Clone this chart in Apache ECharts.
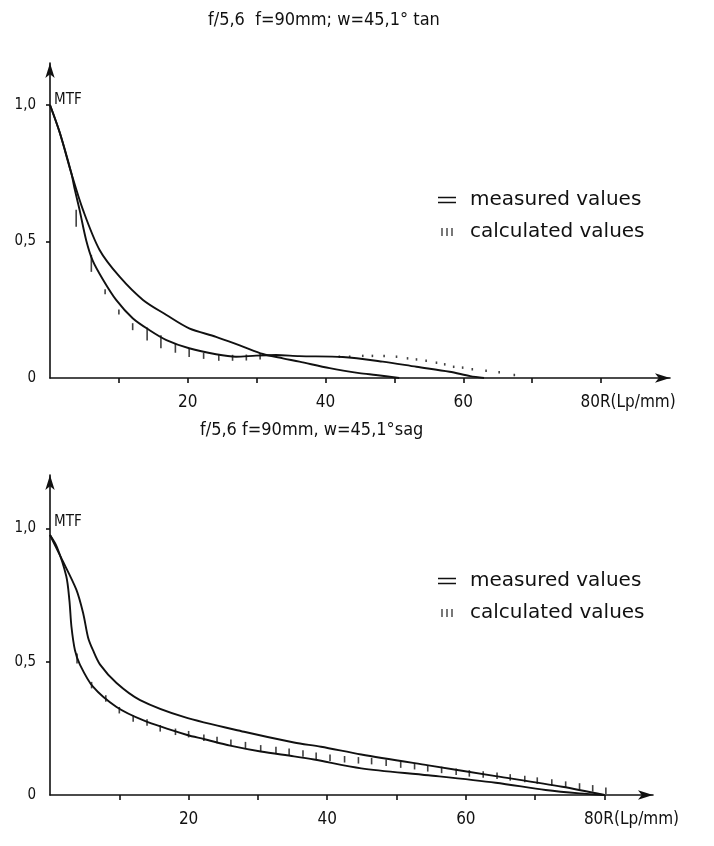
<!DOCTYPE html>
<html>
<head>
<meta charset="utf-8">
<script src="https://cdn.jsdelivr.net/npm/echarts@6/dist/echarts.min.js"></script>
<style>
  html, body { margin: 0; padding: 0; background: #fff; }
  #chart { width: 714px; height: 846px; }
</style>
</head>
<body>
<div id="chart"></div>
<script>
// MTF of an f/5,6 lens, f = 90 mm, at 45,1 degrees field angle.
// x: spatial frequency R in line pairs per mm, y: MTF.

// Tangential panel
const tanMeasuredUpper = [
  [0, 1.0], [1.4, 0.90], [3.1, 0.75], [4.8, 0.615], [7.2, 0.469], [10.1, 0.371],
  [13.5, 0.286], [16.9, 0.231], [20.2, 0.182], [24.1, 0.151], [28, 0.115],
  [30.9, 0.088], [33.8, 0.072], [36.2, 0.06], [40.6, 0.036], [44.9, 0.018],
  [47.3, 0.011], [50.7, 0]
];
const tanMeasuredLower = [
  [0, 1.0], [1.4, 0.90], [3.1, 0.75], [3.6, 0.69], [4.3, 0.615], [5.25, 0.505],
  [6.2, 0.43], [7.7, 0.36], [9.6, 0.286], [12, 0.219], [14.4, 0.176], [16.9, 0.139],
  [20.2, 0.109], [24.1, 0.087], [27, 0.078], [29.9, 0.082], [32.8, 0.084],
  [36.2, 0.08], [42.5, 0.077], [48.3, 0.06], [53.2, 0.041], [58, 0.023],
  [61, 0.007], [63, 0]
];
const tanCalculated = [
  [3.8, 0.585], [6.0, 0.42], [8.0, 0.316], [10.0, 0.242], [12.0, 0.188], [14.1, 0.161],
  [16.1, 0.133], [18.2, 0.109], [20.2, 0.093], [22.3, 0.081], [24.5, 0.074],
  [26.5, 0.074], [28.5, 0.075], [30.5, 0.079],
  [42.0, 0.078], [43.5, 0.078], [45.4, 0.081], [46.8, 0.081], [48.5, 0.081],
  [50.3, 0.078], [51.9, 0.072], [53.2, 0.068], [54.6, 0.063], [56.1, 0.056],
  [57.3, 0.05], [58.6, 0.041], [59.9, 0.038], [61.3, 0.032], [63.3, 0.027],
  [65.2, 0.021], [67.4, 0.011]
];

// Sagittal panel
const sagMeasuredUpper = [
  [0, 0.975], [1.6, 0.89], [3.8, 0.77], [4.8, 0.68], [5.5, 0.59], [6.2, 0.543],
  [7.2, 0.49], [9.6, 0.42], [13, 0.356], [19.3, 0.293], [28, 0.237], [35.2, 0.197],
  [39.1, 0.181], [44.9, 0.152], [54.6, 0.111], [64.3, 0.071], [73.9, 0.031], [80, 0]
];
const sagMeasuredLower = [
  [0, 0.975], [1, 0.93], [2.35, 0.82], [2.8, 0.73], [3.1, 0.63], [3.6, 0.543],
  [4.3, 0.49], [6.2, 0.406], [9.6, 0.33], [13.5, 0.28], [19.8, 0.225], [22.2, 0.21],
  [26, 0.185], [30.4, 0.163], [35.2, 0.145], [38.1, 0.133], [44.9, 0.1],
  [54.6, 0.074], [64.3, 0.046], [71.5, 0.019], [76.4, 0.006], [80, 0]
];
const sagCalculated = [
  [3.9, 0.512], [6.0, 0.412], [8.05, 0.362], [10.0, 0.318], [12.0, 0.287], [14.0, 0.272],
  [15.9, 0.25], [18.1, 0.237], [20.0, 0.228], [22.2, 0.215], [24.1, 0.206], [26.1, 0.196],
  [28.2, 0.187], [30.4, 0.175], [32.6, 0.169], [34.5, 0.162], [36.5, 0.156],
  [38.4, 0.147], [40.4, 0.14], [42.5, 0.134], [44.5, 0.13], [46.4, 0.127],
  [48.5, 0.121], [50.6, 0.114], [52.6, 0.108], [54.5, 0.1], [56.5, 0.094],
  [58.6, 0.087], [60.5, 0.081], [62.5, 0.077], [64.5, 0.072], [66.4, 0.066],
  [68.5, 0.06], [70.3, 0.054], [72.4, 0.047], [74.4, 0.039], [76.4, 0.032],
  [78.3, 0.025], [80.2, 0.016]
];

const xTickValues = [10, 20, 30, 40, 50, 60, 70, 80];
const xLabelValues = [20, 40, 60, 80];
const yLabelValues = [0, 0.5, 1.0];
const yTickValues = [0.5, 1.0];

const titles = ['f/5,6  f=90mm; w=45,1° tan', 'f/5,6 f=90mm, w=45,1°sag'];
const measuredName = 'measured values';
const calculatedName = 'calculated values';

const INK = '#111';
const FONT = '"DejaVu Sans Condensed", "Liberation Sans Narrow", "DejaVu Sans", sans-serif';
const LEGEND_FONT = '"DejaVu Sans", sans-serif';

// legend glyphs: "=" for measured, "III" for calculated
const iconMeasured = 'path://M0,0H18V1.6H0Z M0,5H18V6.6H0Z';
const iconCalculated = 'path://M0,0H1.4V8H0Z M5,0H6.4V8H5Z M10,0H11.4V8H10Z';

function xAxisFor(gridIndex, max) {
  return {
    type: 'value', gridIndex, min: 0, max, interval: 10,
    splitLine: { show: false },
    axisLine: { lineStyle: { color: INK, width: 1.6 }, symbol: ['none', 'arrow'], symbolSize: [7, 15] },
    axisTick: { customValues: xTickValues, length: 5, lineStyle: { color: INK, width: 1.6 } },
    axisLabel: {
      customValues: xLabelValues, margin: 16, color: INK, fontFamily: FONT, fontSize: 17,
      formatter: v => v === 80 ? '{end|80R(Lp/mm)}' : String(v),
      rich: { end: { fontFamily: FONT, fontSize: 17, color: INK, padding: [0, 0, 0, 54] } }
    }
  };
}

function yAxisFor(gridIndex, max, nameGap) {
  return {
    type: 'value', gridIndex, min: 0, max, interval: 0.5,
    name: 'MTF', nameLocation: 'end', nameGap,
    nameTextStyle: { color: INK, fontFamily: FONT, fontSize: 15, align: 'left', verticalAlign: 'middle', padding: [0, 0, 0, 4] },
    splitLine: { show: false },
    axisLine: { lineStyle: { color: INK, width: 1.6 }, symbol: ['none', 'arrow'], symbolSize: [7, 15] },
    axisTick: { customValues: yTickValues, length: 4, lineStyle: { color: INK, width: 1.6 } },
    axisLabel: {
      customValues: yLabelValues, margin: 14, color: INK, fontFamily: FONT, fontSize: 15,
      formatter: v => v === 0 ? '0' : v.toFixed(1).replace('.', ',')
    }
  };
}

function measured(data, axisIndex) {
  return {
    name: measuredName, type: 'line', data,
    xAxisIndex: axisIndex, yAxisIndex: axisIndex,
    smooth: 0.3, showSymbol: false, symbol: 'none',
    lineStyle: { color: INK, width: 1.9 }, itemStyle: { color: INK },
    z: 3, silent: true
  };
}

// calculated values are drawn as short vertical strokes
function calculated(data, axisIndex, strokeLength) {
  return {
    name: calculatedName, type: 'scatter', data,
    xAxisIndex: axisIndex, yAxisIndex: axisIndex,
    symbol: 'rect',
    symbolSize: v => [1.6, strokeLength(v[0])],
    itemStyle: { color: INK }, z: 4, silent: true
  };
}

function tanStroke(x) {
  if (x < 7) return 17;
  if (x < 11) return 5;
  if (x < 13) return 7;
  if (x < 17) return 13;
  if (x < 21) return 9;
  if (x < 32) return 6;
  return 2.5;
}
function sagStroke(x) {
  if (x < 5) return 10;
  return 6.5;
}

function legendAt(top) {
  return {
    orient: 'vertical', left: 433, top,
    itemWidth: 18, itemHeight: 8, itemGap: 12, symbolKeepAspect: true,
    selectedMode: false,
    textStyle: { color: INK, fontFamily: LEGEND_FONT, fontSize: 20, lineHeight: 20, padding: [0, 0, 0, 9] },
    data: [
      { name: measuredName, icon: iconMeasured },
      { name: calculatedName, icon: iconCalculated }
    ]
  };
}

const chart = echarts.init(document.getElementById('chart'), null, { renderer: 'canvas' });
chart.setOption({
  backgroundColor: '#fff',
  animation: false,
  title: [
    { text: titles[0], left: 208, top: 11, padding: 0, textStyle: { color: INK, fontFamily: FONT, fontSize: 18, fontWeight: 'normal' } },
    { text: titles[1], left: 200, top: 421, padding: 0, textStyle: { color: INK, fontFamily: FONT, fontSize: 18, fontWeight: 'normal' } }
  ],
  legend: [legendAt(185), legendAt(566)],
  grid: [
    { left: 50, top: 63, width: 620, height: 315 },
    { left: 50, top: 475, width: 603, height: 320 }
  ],
  xAxis: [xAxisFor(0, 90), xAxisFor(1, 87)],
  yAxis: [yAxisFor(0, 1.154, -37), yAxisFor(1, 1.2, -47)],
  series: [
    measured(tanMeasuredUpper, 0),
    measured(tanMeasuredLower, 0),
    calculated(tanCalculated, 0, tanStroke),
    measured(sagMeasuredUpper, 1),
    measured(sagMeasuredLower, 1),
    calculated(sagCalculated, 1, sagStroke)
  ]
});
</script>
</body>
</html>
